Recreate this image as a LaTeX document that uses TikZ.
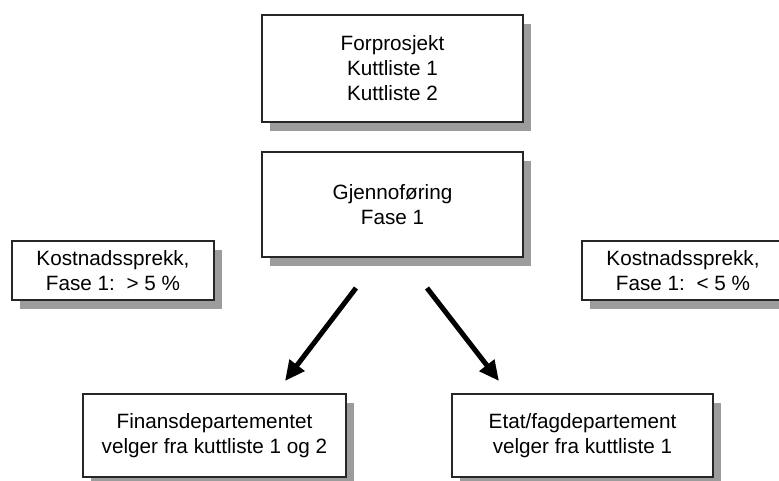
\documentclass[tikz,border=0pt]{standalone}
\usepackage{fontspec}
\setmainfont{Liberation Sans}
\usetikzlibrary{shadows,arrows.meta,positioning}

\begin{document}
\begin{tikzpicture}[x=1pt, y=-1pt,
    box/.style={draw=black!85, line width=1.2pt, fill=white, align=center, inner sep=0pt,
        font=\fontsize{20.7}{25}\selectfont,
        drop shadow={shadow xshift=7.5pt, shadow yshift=-8.5pt, fill=gray!78, opacity=1}},
    bigarrow/.style={line width=5pt, -{Triangle[length=20pt,width=18pt]}}]
    \useasboundingbox (0,0) rectangle (779,480);

    % Forprosjekt
    \node[box, minimum width=261pt, minimum height=107pt] (forprosjekt) at (392.5,68.5)
        {Forprosjekt\\Kuttliste 1\\Kuttliste 2};

    % Gjennomfoering
    \node[box, minimum width=261pt, minimum height=105pt] (gjennom) at (392.5,204.5)
        {Gjennoføring\\Fase 1};

    % Kostnadssprekk
    \node[box, minimum width=202pt, minimum height=59pt] (sprekkstor) at (113,270.5)
        {Kostnadssprekk,\\Fase 1:\ \ > 5 \%};
    \node[box, minimum width=202pt, minimum height=59pt] (sprekkliten) at (683,270.5)
        {Kostnadssprekk,\\Fase 1:\ \ < 5 \%};

    % Hvem velger
    \node[box, minimum width=263pt, minimum height=83pt] (finans) at (214.5,435.5)
        {Finansdepartementet\\velger fra kuttliste 1 og 2};
    \node[box, minimum width=261pt, minimum height=83pt] (etat) at (582.5,435.5)
        {Etat/fagdepartement\\velger fra kuttliste 1};

    % Piler
    \coordinate (venstreA) at (356,288);
    \coordinate (venstreB) at (285,381);
    \coordinate (hoyreA) at (427,288);
    \coordinate (hoyreB) at (499,381);
    \draw[bigarrow] (venstreA) -- (venstreB);
    \draw[bigarrow] (hoyreA) -- (hoyreB);
\end{tikzpicture}
\end{document}
